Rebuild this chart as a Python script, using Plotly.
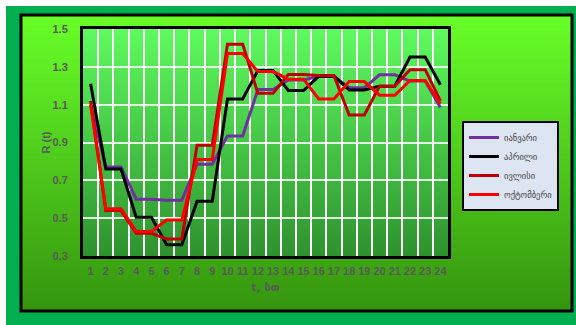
import plotly.graph_objects as go

# Hourly R(t) values for four representative months
hours = [str(h) for h in range(1, 25)]

january = [1.10, 0.77, 0.77, 0.60, 0.60, 0.595, 0.595, 0.785, 0.785, 0.935, 0.935, 1.18,
           1.18, 1.23, 1.23, 1.25, 1.25, 1.19, 1.19, 1.258, 1.258, 1.225, 1.225, 1.085]
april = [1.21, 0.76, 0.76, 0.505, 0.505, 0.36, 0.36, 0.59, 0.59, 1.13, 1.13, 1.28,
         1.28, 1.175, 1.175, 1.25, 1.25, 1.178, 1.178, 1.198, 1.198, 1.352, 1.352, 1.205]
july = [1.12, 0.54, 0.54, 0.42, 0.42, 0.39, 0.39, 0.885, 0.885, 1.42, 1.42, 1.16,
        1.16, 1.26, 1.26, 1.254, 1.254, 1.045, 1.045, 1.198, 1.198, 1.285, 1.285, 1.12]
october = [1.10, 0.55, 0.55, 0.43, 0.43, 0.49, 0.49, 0.81, 0.81, 1.37, 1.37, 1.275,
           1.275, 1.235, 1.235, 1.13, 1.13, 1.222, 1.222, 1.15, 1.15, 1.228, 1.228, 1.105]

series_names = ["იანვარი", "აპრილი", "ივლისი", "ოქტომბერი"]
series_values = [january, april, july, october]
series_colors = ["#7030A0", "#000000", "#C00000", "#FF0000"]

W, H = 576, 325
L, R, T, B = 83, 128, 29, 69
PW, PH = W - L - R, H - T - B


def px(x):
    return (x - L) / PW


def py(y):
    return (H - B - y) / PH


def lerp(c1, c2, t):
    return "rgb(%d,%d,%d)" % tuple(round(a + (b - a) * t) for a, b in zip(c1, c2))


shapes = []
# outer green field
shapes.append(dict(type="rect", xref="paper", yref="paper", layer="below",
                   x0=px(6), x1=px(W + 2), y0=py(6), y1=py(H + 2),
                   fillcolor="#00B050", line=dict(width=0)))


def gradient(x0, x1, y0, y1, top, bottom, step=2):
    n = int((y1 - y0) / step)
    for i in range(n + 1):
        yt = y0 + i * step
        shapes.append(dict(type="rect", xref="paper", yref="paper", layer="below",
                           x0=px(x0), x1=px(x1), y0=py(yt), y1=py(y1),
                           fillcolor=lerp(top, bottom, i / max(n, 1)),
                           line=dict(width=0)))


# framed chart area and plot area fills
gradient(21, 572, 15, 311, (104, 255, 40), (52, 148, 14))
gradient(83, 448, 29, 256, (94, 250, 94), (46, 146, 46))
shapes.append(dict(type="rect", xref="paper", yref="paper", layer="above",
                   x0=px(21), x1=px(572), y0=py(15), y1=py(311),
                   fillcolor="rgba(0,0,0,0)", line=dict(color="black", width=3)))

fig = go.Figure()
for name, vals, color in zip(series_names, series_values, series_colors):
    fig.add_trace(go.Scatter(x=hours, y=vals, mode="lines", name=name,
                             line=dict(color=color, width=3)))

axis_font = dict(family="Liberation Sans", size=11, color="#595959", weight="bold")

fig.update_layout(
    width=W, height=H,
    margin=dict(l=L, r=R, t=T, b=B, pad=0),
    paper_bgcolor="white",
    plot_bgcolor="rgba(0,0,0,0)",
    shapes=shapes,
    showlegend=True,
    legend=dict(x=px(462), y=py(121), xanchor="left", yanchor="top",
                bgcolor="#dde4f2", bordercolor="black", borderwidth=2,
                font=dict(family="DejaVu Sans", size=8.5, color="#404040"),
                itemwidth=30, tracegroupgap=0),
    xaxis=dict(type="category", tickson="boundaries", range=[-0.5, 23.5],
               showgrid=True, gridcolor="white", gridwidth=2,
               showline=True, mirror=True, linecolor="black", linewidth=3,
               ticks="", ticklabelstandoff=3, tickangle=0, tickfont=axis_font,
               title=dict(text="t, სთ", standoff=8,
                          font=dict(family="DejaVu Sans", size=11, color="#595959", weight="bold")),
               zeroline=False, automargin=False),
    yaxis=dict(range=[0.3, 1.5], tick0=0.3, dtick=0.2, tickformat=".1f",
               showgrid=True, gridcolor="rgba(255,255,255,0.85)", gridwidth=1.5,
               showline=True, mirror=True, linecolor="black", linewidth=3,
               ticks="", ticklabelstandoff=10, tickfont=axis_font,
               title=dict(text="R (t)", standoff=0, font=axis_font),
               zeroline=False, automargin=False),
)

fig.write_html("out.html")
